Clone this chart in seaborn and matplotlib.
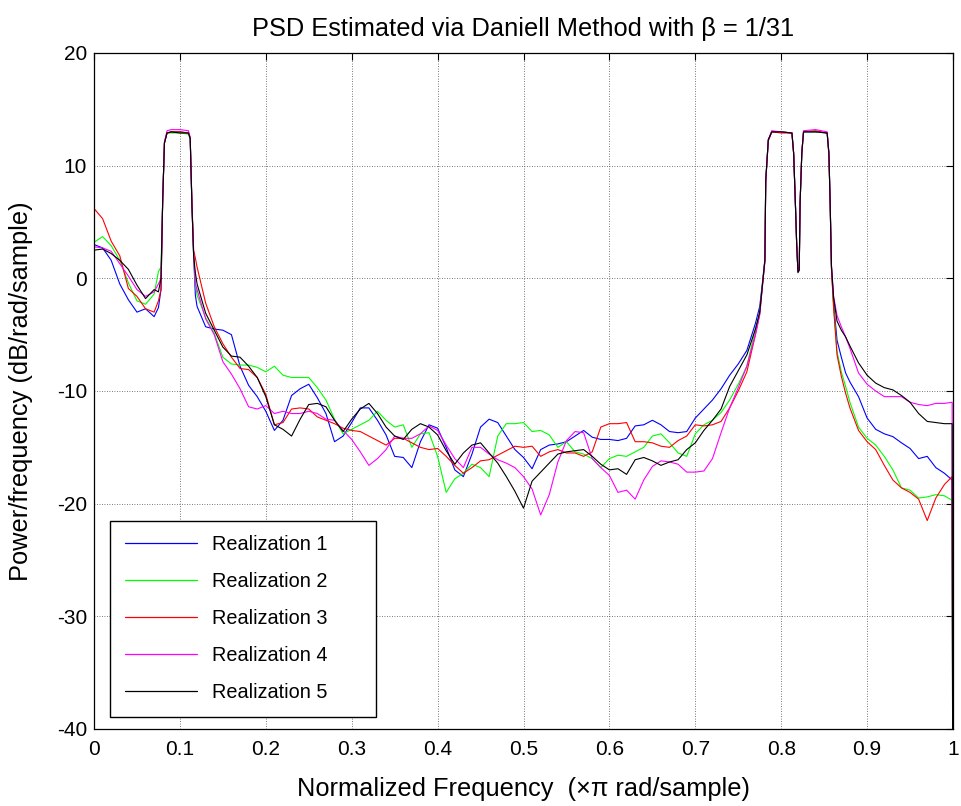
import matplotlib
matplotlib.use("Agg")
import matplotlib.pyplot as plt
import seaborn as sns
import pandas as pd

# ---------------- data ----------------
FREQ = [0.00, 0.01, 0.02, 0.03, 0.04, 0.05, 0.06, 0.07, 0.075,
        0.078, 0.080, 0.082, 0.085, 0.09, 0.10, 0.11, 0.112, 0.114, 0.116, 0.118,
        0.12, 0.13, 0.14, 0.15, 0.16, 0.17, 0.18, 0.19, 0.20, 0.21, 0.22, 0.23, 0.24,
        0.25, 0.26, 0.27, 0.28, 0.29, 0.30, 0.31, 0.32, 0.33, 0.34, 0.35, 0.36, 0.37,
        0.38, 0.39, 0.40, 0.41, 0.42, 0.43, 0.44, 0.45, 0.46, 0.47, 0.48, 0.49, 0.50,
        0.51, 0.52, 0.53, 0.54, 0.55, 0.56, 0.57, 0.58, 0.59, 0.60, 0.61, 0.62, 0.63,
        0.64, 0.65, 0.66, 0.67, 0.68, 0.69, 0.70, 0.71, 0.72, 0.73, 0.74, 0.75, 0.76, 0.77,
        0.775, 0.778, 0.781, 0.782, 0.785, 0.789, 0.80, 0.8125, 0.8145, 0.8165, 0.818,
        0.8195, 0.821, 0.822, 0.824, 0.826, 0.84, 0.8535, 0.8555, 0.857, 0.8585, 0.861,
        0.865, 0.87, 0.875, 0.88, 0.89, 0.90, 0.91, 0.92, 0.93, 0.94, 0.95, 0.96, 0.97,
        0.98, 0.99, 0.999, 1.0]

REAL1 = [3.0, 2.7, 1.6, -0.5, -1.9, -3.0, -2.7, -3.4, -2.6,
         -1.0, 7.0, 12.0, 12.9, 13.0, 13.0, 12.9, 12.4, 6.5, 2.0, -1.5,
         -2.5, -4.3, -4.5, -4.6, -5.0, -7.8, -9.5, -10.5, -11.8, -13.5, -12.6, -10.4, -9.8,
         -9.4, -10.6, -12.0, -14.5, -14.0, -12.8, -11.5, -11.5, -12.6, -13.9, -15.8, -15.9, -16.8,
         -14.5, -13.0, -13.3, -15.0, -17.0, -17.6, -15.6, -13.2, -12.5, -12.8, -14.0, -15.2, -15.9,
         -16.9, -15.2, -14.8, -14.7, -14.5, -14.0, -13.5, -14.1, -14.3, -14.3, -14.4, -14.2, -13.1,
         -13.0, -12.6, -13.0, -13.6, -13.7, -13.6, -12.4, -11.6, -10.8, -9.8, -8.6, -7.6, -6.4, -4.0,
         -2.5, -0.5, 1.7, 8.7, 12.3, 13.0, 13.0, 12.9, 11.1, 6.7, 3.1,
         0.6, 0.8, 6.7, 11.1, 13.0, 13.0, 12.9, 11.1, 6.7, 1.0, -2.2,
         -5.5, -7.0, -8.4, -9.2, -10.5, -12.4, -13.4, -13.8, -14.05, -14.6, -15.1, -16.0, -15.8,
         -16.8, -17.3, -17.9, -60.0]

REAL2 = [3.2, 3.7, 2.9, 1.6, -0.4, -2.0, -2.3, -1.4, 0.6,
         1.0, 7.2, 12.1, 12.9, 12.9, 12.9, 12.8, 12.3, 6.6, 2.0, -0.5,
         -1.5, -3.5, -4.9, -7.0, -7.6, -7.7, -7.7, -7.9, -8.3, -7.8, -8.6, -8.8, -8.8,
         -8.8, -9.7, -10.8, -12.5, -13.8, -13.4, -13.0, -12.6, -11.8, -12.6, -13.2, -13.0, -15.0,
         -13.8, -13.7, -15.8, -19.0, -17.8, -17.3, -16.5, -16.8, -17.6, -14.0, -12.9, -12.9, -12.8,
         -13.6, -13.5, -13.9, -15.0, -14.5, -15.4, -15.6, -16.0, -16.8, -16.0, -15.7, -15.8, -15.4,
         -15.0, -14.0, -13.8, -14.6, -15.5, -15.8, -13.8, -13.0, -12.6, -11.9, -10.8, -9.4, -7.8, -4.5,
         -3.0, -0.7, 1.6, 8.7, 12.3, 13.0, 13.0, 12.9, 11.1, 6.7, 3.1,
         0.6, 0.8, 6.7, 11.1, 13.0, 13.0, 12.9, 11.1, 6.7, 1.0, -2.5,
         -6.5, -8.3, -9.6, -11.0, -13.2, -14.2, -14.8, -15.8, -17.0, -18.6, -18.8, -19.5, -19.4,
         -19.2, -19.3, -19.7, -60.0]

REAL3 = [6.2, 5.3, 3.3, 2.0, -0.9, -1.6, -2.7, -3.0, -2.0,
         -1.0, 7.0, 12.0, 12.9, 13.0, 13.0, 12.9, 12.5, 6.8, 2.5, 1.8,
         1.0, -2.2, -4.3, -5.8, -7.0, -8.0, -8.1, -8.8, -10.3, -13.0, -12.8, -11.6, -11.5,
         -11.6, -12.3, -12.6, -12.9, -13.3, -13.5, -13.6, -14.0, -14.4, -14.8, -14.2, -14.2, -14.6,
         -15.0, -15.2, -15.1, -15.8, -16.6, -17.3, -16.8, -16.2, -16.1, -15.7, -15.3, -14.9, -15.0,
         -14.9, -15.8, -15.4, -15.2, -15.5, -15.5, -15.8, -15.4, -13.2, -12.9, -12.9, -12.8, -14.5,
         -14.5, -14.6, -14.9, -15.0, -14.4, -14.0, -13.0, -13.1, -13.0, -12.7, -11.5, -10.0, -8.3, -5.0,
         -3.2, -0.8, 1.5, 8.6, 12.2, 13.0, 12.9, 12.9, 11.0, 6.6, 3.0,
         0.7, 0.9, 6.8, 11.2, 13.0, 13.1, 12.9, 11.0, 6.5, 0.8, -2.6,
         -6.8, -8.7, -10.2, -11.5, -13.5, -14.5, -15.2, -16.6, -17.9, -18.6, -19.0, -19.6, -21.5,
         -19.5, -18.3, -17.6, -60.0]

REAL4 = [2.8, 2.7, 2.4, 1.3, 0.2, -1.0, -1.6, -1.2, -0.5,
         0.0, 7.1, 12.1, 13.1, 13.2, 13.2, 13.1, 12.5, 6.6, 2.0, -0.5,
         -1.0, -3.6, -5.0, -7.4, -8.5, -9.8, -11.4, -11.6, -11.3, -12.0, -11.8, -12.0, -12.0,
         -11.8, -12.0, -12.5, -12.6, -13.5, -14.3, -15.4, -16.6, -16.0, -15.2, -14.0, -14.2, -14.2,
         -13.8, -13.1, -13.5, -14.8, -16.0, -16.8, -15.0, -15.0, -15.6, -16.1, -16.4, -16.8, -17.6,
         -18.7, -21.0, -19.2, -16.3, -14.4, -13.6, -13.7, -16.0, -16.8, -17.5, -19.0, -18.8, -19.6,
         -17.9, -16.7, -16.2, -16.3, -16.5, -17.2, -17.2, -17.1, -16.0, -13.7, -11.5, -9.7, -7.8, -5.0,
         -3.2, -0.8, 1.5, 8.6, 12.3, 13.1, 13.0, 12.9, 11.1, 6.7, 3.1,
         0.6, 0.8, 6.7, 11.2, 13.1, 13.2, 13.0, 11.2, 6.8, 1.2, -1.6,
         -3.3, -4.3, -5.2, -6.2, -8.4, -9.4, -10.0, -10.5, -10.5, -10.5, -11.0, -11.2, -11.3,
         -11.1, -11.1, -11.0, -60.0]

REAL5 = [2.5, 2.6, 2.2, 1.6, 0.8, -0.6, -1.8, -1.0, -1.2,
         0.0, 7.0, 12.0, 12.9, 13.0, 12.9, 12.9, 12.4, 6.5, 2.0, 0.5,
         -0.5, -3.1, -4.6, -6.1, -6.9, -7.0, -7.8, -8.8, -10.5, -13.0, -13.4, -14.0, -12.5,
         -11.2, -11.1, -11.4, -12.6, -13.6, -12.5, -11.6, -11.1, -12.0, -13.2, -14.0, -14.3, -13.4,
         -12.9, -13.2, -13.9, -15.3, -16.5, -15.5, -14.8, -14.6, -15.5, -16.4, -17.6, -18.9, -20.4,
         -18.0, -17.2, -16.4, -15.6, -15.4, -15.3, -15.2, -15.8, -16.5, -17.0, -16.9, -17.4, -16.1,
         -15.9, -16.2, -16.6, -16.3, -16.1, -15.2, -14.6, -13.5, -12.6, -11.6, -9.6, -8.2, -6.8, -4.5,
         -3.0, -0.7, 1.6, 8.7, 12.3, 13.0, 13.0, 12.9, 11.1, 6.7, 3.1,
         0.5, 0.7, 6.7, 11.1, 13.0, 13.0, 12.9, 11.1, 6.7, 1.1, -1.7,
         -3.8, -4.6, -5.2, -6.0, -7.5, -8.6, -9.3, -9.7, -9.9, -10.4, -11.0, -12.0, -12.7,
         -12.8, -12.9, -12.9, -60.0]

SERIES = ["Realization 1", "Realization 2", "Realization 3", "Realization 4", "Realization 5"]
COLORS = ["#0000ff", "#00ff00", "#ff0000", "#ff00ff", "#000000"]
XTICKS = [0, 0.1, 0.2, 0.3, 0.4, 0.5, 0.6, 0.7, 0.8, 0.9, 1]
XTICKLABELS = ["0", "0.1", "0.2", "0.3", "0.4", "0.5", "0.6", "0.7", "0.8", "0.9", "1"]
YTICKS = [20, 10, 0, -10, -20, -30, -40]

# ---------------- build table ----------------
frames = []
for name, vals in zip(SERIES, [REAL1, REAL2, REAL3, REAL4, REAL5]):
    frames.append(pd.DataFrame({"freq": FREQ, "psd": vals, "series": name}))
df = pd.concat(frames, ignore_index=True)

# ---------------- style ----------------
sns.set_style("white")
plt.rcParams["font.family"] = ["Liberation Sans", "DejaVu Sans"]
plt.rcParams["axes.unicode_minus"] = False
plt.rcParams["text.color"] = "black"
plt.rcParams["axes.labelcolor"] = "black"
plt.rcParams["xtick.color"] = "black"
plt.rcParams["ytick.color"] = "black"
FS_TICK = 15.0
FS_LEG = 14.3
FS_LAB = 18.3

fig = plt.figure(figsize=(9.62, 8.06), dpi=100)
ax = fig.add_axes([94 / 962, 1 - 729 / 806, (953 - 94) / 962, (729 - 53) / 806])

sns.lineplot(data=df, x="freq", y="psd", hue="series", hue_order=SERIES,
             palette=dict(zip(SERIES, COLORS)), estimator=None, sort=False,
             linewidth=0.8, ax=ax, legend=True)

ax.set_xlim(0, 1)
ax.set_ylim(-40, 20)
ax.set_xticks(XTICKS)
ax.set_xticklabels(XTICKLABELS)
ax.set_yticks(YTICKS)
ax.set_yticklabels([str(v) for v in YTICKS])
ax.grid(True, linestyle=(0, (1, 2)), color="0.3", linewidth=0.6)
ax.tick_params(direction="in", length=5, width=0.8, top=True, right=True,
               labelsize=FS_TICK, colors="black")
ax.tick_params(axis="x", pad=8)
ax.tick_params(axis="y", pad=5)
for s in ax.spines.values():
    s.set_color("black")
    s.set_linewidth(0.9)

ax.set_title("PSD Estimated via Daniell Method with \u03b2 = 1/31", fontsize=FS_LAB,
             pad=12, color="black")
ax.set_xlabel("Normalized Frequency  (\u00d7\u03c0 rad/sample)", fontsize=FS_LAB, color="black")
ax.set_ylabel("Power/frequency (dB/rad/sample)", fontsize=FS_LAB, color="black")
ax.xaxis.set_label_coords(0.5, -0.071)
ax.yaxis.set_label_coords(-0.071, 0.5)

handles, labels = ax.get_legend_handles_labels()
leg = ax.legend(handles, labels, loc="lower left",
                bbox_to_anchor=(0.019, 0.018, 0.309, 0.29), mode="expand",
                fontsize=FS_LEG, frameon=True, fancybox=False, shadow=False,
                handlelength=3.6, handletextpad=0.75, labelspacing=0.9,
                borderpad=0.75, borderaxespad=0.0)
leg.get_frame().set_edgecolor("black")
leg.get_frame().set_linewidth(1.0)
leg.get_frame().set_alpha(1.0)
for text in leg.get_texts():
    text.set_color("black")
for line in leg.get_lines():
    line.set_linewidth(0.9)

fig.savefig("out.png", dpi=100)
